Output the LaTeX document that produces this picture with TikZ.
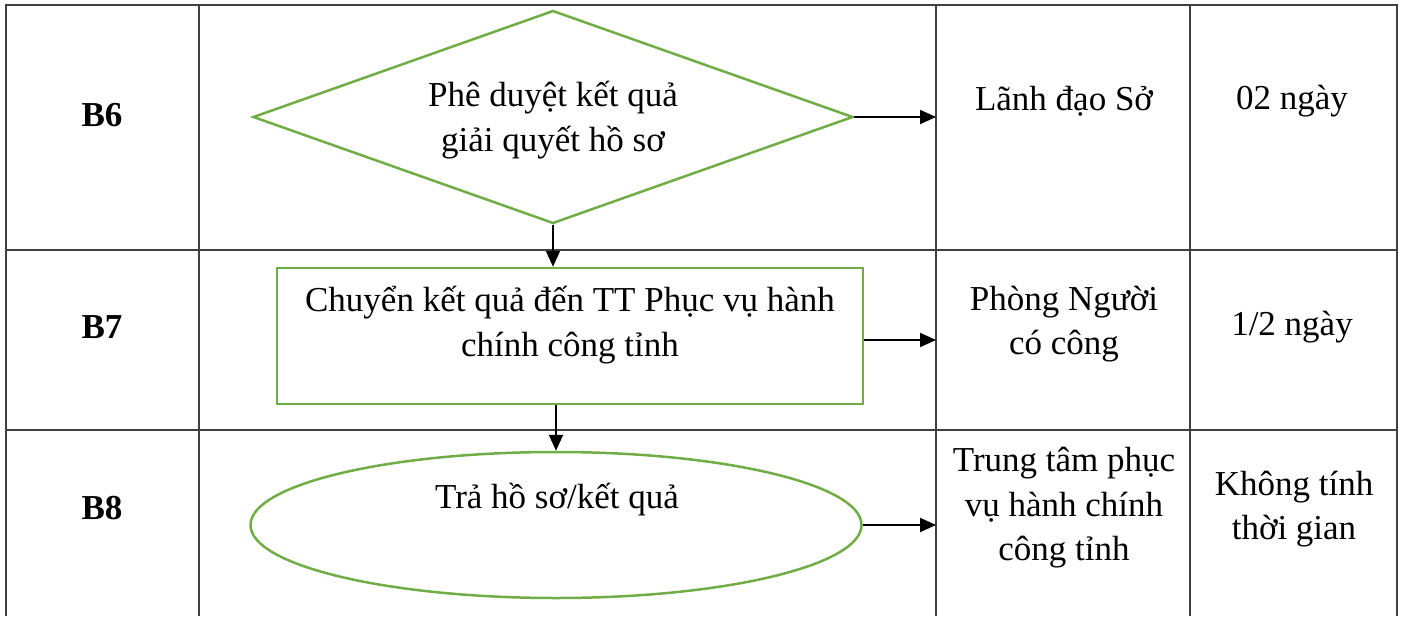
\documentclass[tikz,border=0pt]{standalone}
\usepackage{fontspec}
\setmainfont{Liberation Serif}
\usetikzlibrary{arrows.meta,shapes.geometric}
\definecolor{leaf}{HTML}{70AD47}
\definecolor{rule}{HTML}{404040}

\begin{document}
\begin{tikzpicture}[x=1pt,y=-1pt, every node/.style={font=\fontsize{35}{44.5}\selectfont,align=center,inner sep=0pt},
  grid/.style={draw=rule,line width=2pt},
  shp/.style={draw=leaf,line width=2.5pt},
  stepname/.style={font=\fontsize{35}{44.5}\selectfont\bfseries},
  arr/.style={-{Triangle[length=16pt,width=14pt]},draw=black,line width=2pt}]
  \useasboundingbox (0,0) rectangle (1403,616);
  % table
  \draw[grid] (6,616) -- (6,5) -- (1397,5) -- (1397,616);
  \foreach \y in {250,430} \draw[grid] (6,\y) -- (1397,\y);
  \foreach \x in {199,936,1190} \draw[grid] (\x,5) -- (\x,616);
  % step names
  \node[stepname] (b6) at (102,115) {B6};
  \node[stepname] (b7) at (102,327) {B7};
  \node[stepname] (b8) at (102,508) {B8};
  % flow shapes
  \node[shp,diamond,minimum width=600pt,minimum height=213pt] (dec) at (553,117) {};
  \node (dectxt) at (553,120) {Phê duyệt kết quả\\giải quyết hồ sơ};
  \node[shp,rectangle,minimum width=586pt,minimum height=136pt] (fwd) at (570,336) {};
  \node (fwdtxt) at (570,325) {Chuyển kết quả đến TT Phục vụ hành\\chính công tỉnh};
  \node[shp,ellipse,minimum width=611pt,minimum height=146pt] (ret) at (556,525) {};
  \node (rettxt) at (557,500) {Trả hồ sơ/kết quả};
  % who / time
  \node (who6) at (1064,101) {Lãnh đạo Sở};
  \node (time6) at (1292,101) {02 ngày};
  \node (who7) at (1064,324) {Phòng Người\\có công};
  \node (time7) at (1292,327) {1/2 ngày};
  \node (who8) at (1064,508) {Trung tâm phục\\vụ hành chính\\công tỉnh};
  \node (time8) at (1294,509) {Không tính\\thời gian};
  % arrows
  \coordinate (t6) at (936,117);
  \coordinate (t7) at (936,340);
  \coordinate (t8) at (936,525);
  \draw[arr] (dec.east) -- (t6);
  \draw[arr] (dec.south) -- (dec.south |- fwd.north);
  \draw[arr] (fwd.east |- t7) -- (t7);
  \draw[arr] (ret.north |- fwd.south) -- (ret.north);
  \draw[arr] (ret.east) -- (t8);
\end{tikzpicture}
\end{document}
